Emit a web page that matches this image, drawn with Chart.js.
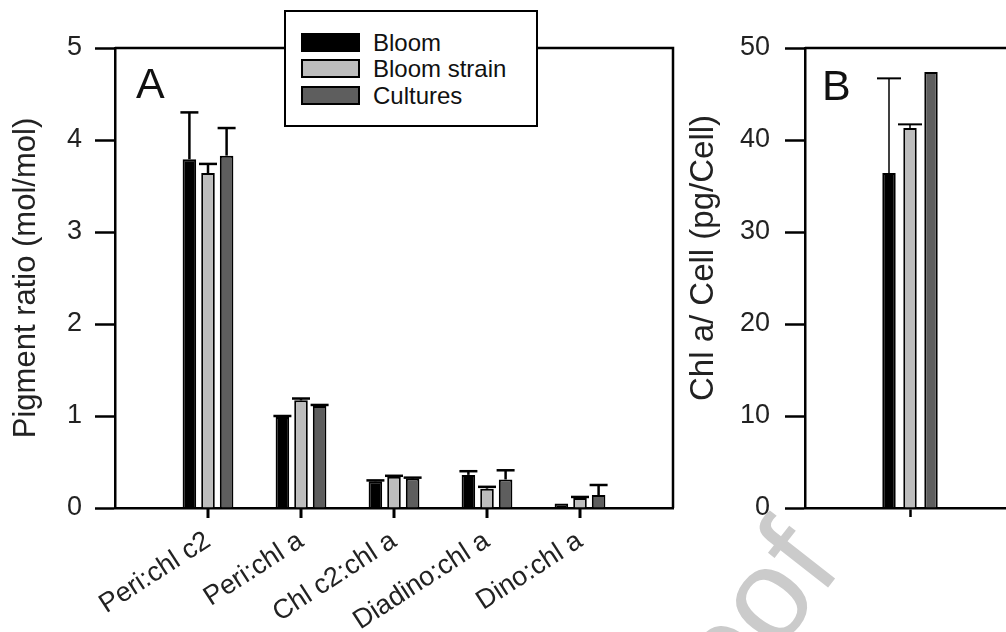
<!DOCTYPE html>
<html>
<head>
<meta charset="utf-8">
<script src="https://cdn.jsdelivr.net/npm/chart.js@4.4.1/dist/chart.umd.min.js"></script>
<style>
  html, body { margin:0; padding:0; background:#fff; }
  body { width:1006px; height:632px; overflow:hidden; position:relative; font-family:'Liberation Sans', Arial, sans-serif; }
  #wm { position:absolute; left:652px; top:703px; font-size:130px; line-height:130px; color:#cbcbcb; white-space:nowrap; transform-origin:0 110px; transform:rotate(-52deg); }
  #cA { position:absolute; left:0; top:0; }
  #cB { position:absolute; left:680px; top:0; }
  #legend { position:absolute; left:284px; top:10px; width:254px; height:117px; box-sizing:border-box; border:2px solid #000; background:#fff; }
  .row { position:absolute; left:15px; height:28px; line-height:28px; font-size:24px; color:#111; white-space:nowrap; }
  .sw { position:absolute; left:0; top:4px; width:59px; height:19px; box-sizing:border-box; border:2px solid #000; }
  .lbl { position:absolute; left:72px; top:0; }
</style>
</head>
<body>
<div id="wm">Proof</div>
<canvas id="cA" width="690" height="632"></canvas>
<canvas id="cB" width="360" height="632"></canvas>
<div id="legend"></div>
<script>
// ---------------- data ----------------
const categoriesA = ['Peri:chl c2', 'Peri:chl a', 'Chl c2:chl a', 'Diadino:chl a', 'Dino:chl a'];
const seriesNames = ['Bloom', 'Bloom strain', 'Cultures'];
const seriesColors = ['#000000', '#bdbdbd', '#5e5e5e'];

const bloomA        = [3.79, 0.99, 0.29, 0.36, 0.05];
const bloomErrA     = [0.51, 0.01, 0.01, 0.04, 0.00];
const strainA       = [3.64, 1.17, 0.34, 0.21, 0.11];
const strainErrA    = [0.10, 0.02, 0.01, 0.02, 0.01];
const culturesA     = [3.83, 1.11, 0.32, 0.31, 0.14];
const culturesErrA  = [0.30, 0.01, 0.01, 0.10, 0.11];

const bloomB        = [36.4];
const bloomErrB     = [10.3];
const strainB       = [41.3];
const strainErrB    = [0.4];
const culturesB     = [47.4];
const culturesErrB  = [0];

const yTicksA = [0, 1, 2, 3, 4, 5];
const yTicksB = [0, 10, 20, 30, 40, 50];

const titleA = 'Pigment ratio (mol/mol)';
const titleB = 'Chl a/ Cell (pg/Cell)';

// ---------------- helpers ----------------
const FAMILY = "'Liberation Sans', Arial, sans-serif";

const pad = arr => [null, ...arr, null];
const labelsA = ['', ...categoriesA, ''];

const errorBars = {
  id: 'errorBars',
  afterDatasetsDraw(chart, args, opts) {
    const ctx = chart.ctx, y = chart.scales.y;
    chart.data.datasets.forEach((ds, i) => {
      const meta = chart.getDatasetMeta(i);
      meta.data.forEach((bar, j) => {
        const v = ds.data[j], e = ds.errors ? ds.errors[j] : null;
        if (v == null || !e) return;
        const top = y.getPixelForValue(v + e);
        const half = opts.capHalf;
        ctx.save();
        ctx.strokeStyle = '#000';
        ctx.lineWidth = opts.lineWidth;
        ctx.beginPath();
        ctx.moveTo(bar.x, bar.y);
        ctx.lineTo(bar.x, top);
        ctx.stroke();
        ctx.lineWidth = opts.capWidth;
        ctx.beginPath();
        ctx.moveTo(bar.x - half, top);
        ctx.lineTo(bar.x + half, top);
        ctx.stroke();
        ctx.restore();
      });
    });
  }
};

const frame = {
  id: 'frame',
  afterDraw(chart, args, opts) {
    const a = chart.chartArea, ctx = chart.ctx;
    ctx.save();
    ctx.strokeStyle = '#000';
    ctx.lineWidth = 2.5;
    ctx.beginPath();
    ctx.moveTo(a.left, a.top);
    ctx.lineTo(a.right, a.top);
    ctx.lineTo(a.right, a.bottom);
    ctx.stroke();
    // category tick marks below the x axis
    const xs = chart.scales.x;
    (opts.tickIdx || []).forEach(i => {
      const px = Math.round(xs.getPixelForValue(i));
      ctx.beginPath();
      ctx.strokeStyle = '#000';
      ctx.lineWidth = 3;
      ctx.moveTo(px, a.bottom);
      ctx.lineTo(px, a.bottom + 10);
      ctx.stroke();
    });
    ctx.fillStyle = '#111';
    ctx.font = '43px ' + FAMILY;
    ctx.textBaseline = 'alphabetic';
    ctx.fillText(opts.letter, a.left + opts.dx, a.top + opts.dy);
    if (opts.title) {
      ctx.save();
      ctx.translate(opts.title.x, opts.title.y);
      ctx.rotate(-Math.PI / 2);
      ctx.font = opts.title.size + 'px ' + FAMILY;
      ctx.textAlign = 'center';
      ctx.textBaseline = 'middle';
      ctx.fillStyle = '#222';
      ctx.fillText(opts.title.text, 0, 0);
      ctx.restore();
    }
    ctx.restore();
  }
};

function makeDatasets(values, errors, padIt) {
  return seriesNames.map((name, k) => ({
    label: name,
    data: padIt ? pad(values[k]) : values[k],
    errors: padIt ? pad(errors[k]) : errors[k],
    backgroundColor: seriesColors[k],
    borderColor: '#000',
    borderWidth: 2
  }));
}

// ---------------- chart A ----------------
new Chart(document.getElementById('cA'), {
  type: 'bar',
  data: {
    labels: labelsA,
    datasets: makeDatasets([bloomA, strainA, culturesA], [bloomErrA, strainErrA, culturesErrA], true)
  },
  options: {
    responsive: false,
    animation: false,
    layout: { padding: { top: 48, right: 17, left: 0, bottom: 0 } },
    datasets: { bar: { categoryPercentage: 0.6, barPercentage: 0.73 } },
    plugins: {
      legend: { display: false },
      tooltip: { enabled: false },
      errorBars: { capHalf: 9, lineWidth: 2.5, capWidth: 2.5 },
      frame: { letter: 'A', dx: 21, dy: 50, tickIdx: categoriesA.map((c, i) => i + 1) }
    },
    scales: {
      x: {
        offset: false,
        grid: { offset: false, drawOnChartArea: false, drawTicks: true, tickLength: 9, tickWidth: 0, tickColor: 'rgba(0,0,0,0)' },
        border: { color: '#000', width: 2.5 },
        ticks: { autoSkip: false, minRotation: 33, maxRotation: 33, padding: 8, color: '#222', font: { size: 27, family: FAMILY } },
        afterFit(s) { s.height = 124; s.paddingLeft = 0; s.paddingRight = 0; }
      },
      y: {
        min: 0, max: 5,
        afterBuildTicks(s) { s.ticks = yTicksA.map(v => ({ value: v })); },
        grid: { drawOnChartArea: false, tickLength: 20, tickWidth: 2.5, tickColor: '#000' },
        border: { color: '#000', width: 2.5 },
        ticks: { padding: 13, color: '#222', font: { size: 27, family: FAMILY } },
        title: { display: true, text: titleA, color: '#222', font: { size: 31, family: FAMILY }, padding: { top: 8, bottom: 0 } },
        afterFit(s) { s.width = 115; }
      }
    }
  },
  plugins: [errorBars, frame]
});

// ---------------- chart B ----------------
new Chart(document.getElementById('cB'), {
  type: 'bar',
  data: {
    labels: [''],
    datasets: makeDatasets([bloomB, strainB, culturesB], [bloomErrB, strainErrB, culturesErrB], false)
  },
  options: {
    responsive: false,
    animation: false,
    layout: { padding: { top: 48, right: 25, left: 0, bottom: 0 } },
    datasets: { bar: { categoryPercentage: 0.3, barPercentage: 0.64 } },
    plugins: {
      legend: { display: false },
      tooltip: { enabled: false },
      errorBars: { capHalf: 12, lineWidth: 1.5, capWidth: 2 },
      frame: { letter: 'B', dx: 17, dy: 52, title: { text: titleB, x: 24, y: 258, size: 33 } }
    },
    scales: {
      x: {
        offset: true,
        grid: { offset: false, drawOnChartArea: false, tickLength: 9, tickWidth: 2.5, tickColor: '#000' },
        border: { color: '#000', width: 2.5 },
        ticks: { color: '#222', font: { size: 27, family: FAMILY } },
        afterFit(s) { s.height = 124; }
      },
      y: {
        min: 0, max: 50,
        afterBuildTicks(s) { s.ticks = yTicksB.map(v => ({ value: v })); },
        grid: { drawOnChartArea: false, tickLength: 20, tickWidth: 2.5, tickColor: '#000' },
        border: { color: '#000', width: 2.5 },
        ticks: { padding: 15, color: '#222', font: { size: 27, family: FAMILY } },
        afterFit(s) { s.width = 125; }
      }
    }
  },
  plugins: [errorBars, frame]
});

// ---------------- legend ----------------
const leg = document.getElementById('legend');
const rowTops = [17, 43, 70];
seriesNames.forEach((name, k) => {
  const r = document.createElement('div');
  r.className = 'row';
  r.style.top = rowTops[k] + 'px';
  const sw = document.createElement('div');
  sw.className = 'sw';
  sw.style.background = seriesColors[k];
  const t = document.createElement('span');
  t.className = 'lbl';
  t.textContent = name;
  r.appendChild(sw); r.appendChild(t);
  leg.appendChild(r);
});
</script>
</body>
</html>
